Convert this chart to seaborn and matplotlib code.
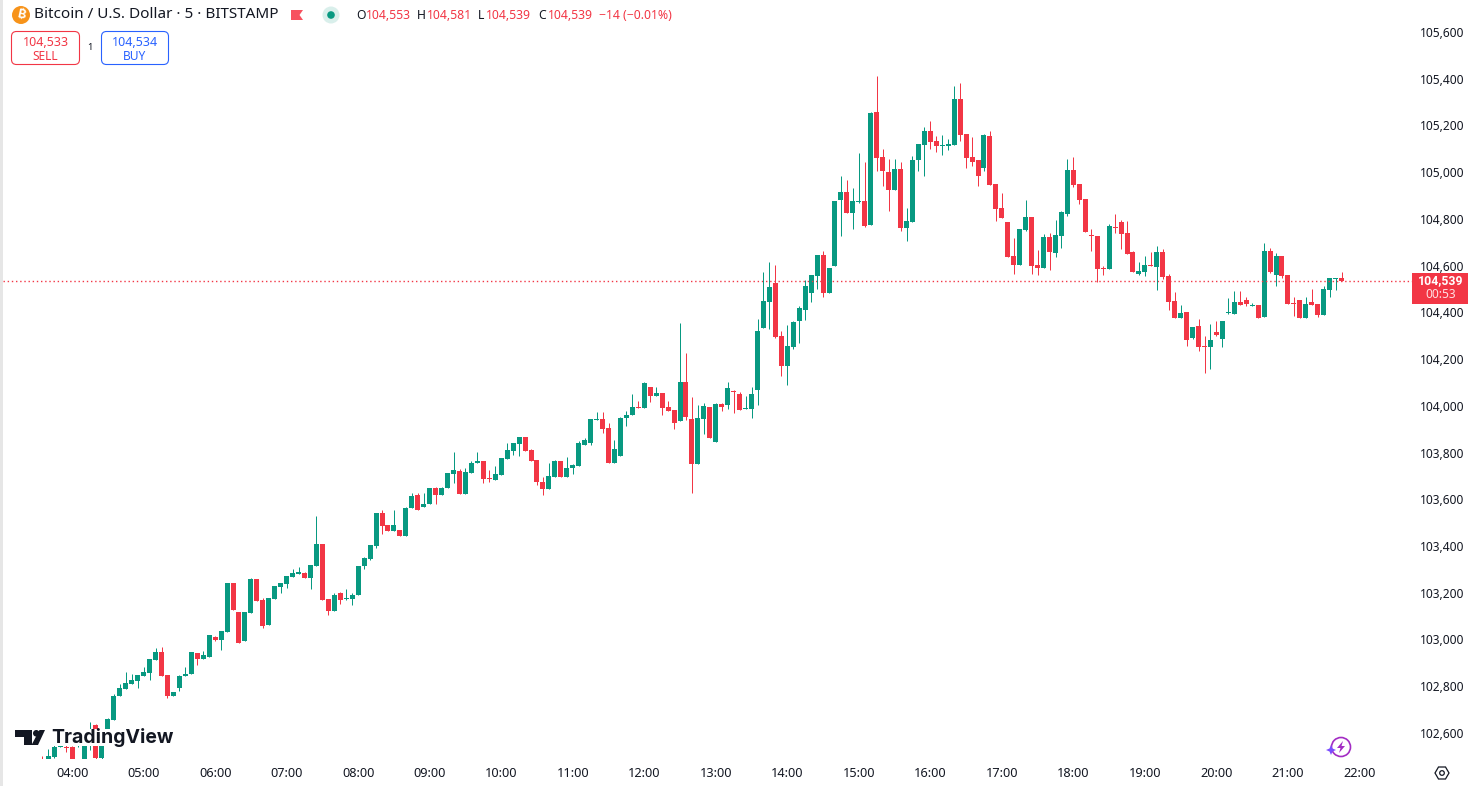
import matplotlib
matplotlib.use("Agg")
import matplotlib.pyplot as plt
import numpy as np
import pandas as pd
import seaborn as sns
from matplotlib.patches import Circle, FancyBboxPatch, Polygon, Rectangle
from matplotlib.transforms import ScaledTranslation

# 5 minute candles, one row = one hour, first row starts 03:35
opens = [
    102470, 102470, 102504, 102547, 102547, 102547, 102551, 102470, 102555, 102641, 102499, 102615,
    102662, 102765, 102795, 102816, 102829, 102850, 102863, 102919, 102953, 102855, 102765, 102799,
    102850, 102859, 102949, 102923, 102932, 103017, 103004, 103039, 103248, 103124, 103000, 103120,
    103265, 103176, 103069, 103180, 103231, 103244, 103274, 103287, 103291, 103270, 103321, 103415,
    103180, 103129, 103206, 103180, 103180, 103197, 103321, 103351, 103407, 103548, 103496, 103471,
    103475, 103449, 103569, 103625, 103574, 103586, 103655, 103625, 103655, 103715, 103728, 103629,
    103719, 103762, 103770, 103698, 103689, 103710, 103779, 103813, 103843, 103873, 103817, 103775,
    103680, 103650, 103702, 103770, 103702, 103740, 103749, 103839, 103847, 103946, 103950, 103912,
    103762, 103792, 103954, 103967, 104001, 103997, 104087, 104049, 104061, 104001, 103989, 103942,
    104108, 103950, 103757, 103950, 104001, 103852, 104014, 104010, 104070, 104057, 103993, 103993,
    104074, 104339, 104451, 104532, 104305, 104177, 104258, 104369, 104416, 104489, 104562, 104652,
    104489, 104605, 104887, 104921, 104832, 104879, 104883, 104780, 105264, 105071, 105007, 104930,
    105020, 104767, 104793, 105058, 105123, 105182, 105140, 105118, 105118, 105123, 105319, 105170,
    105071, 105058, 105024, 105161, 104956, 104853, 104793, 104647, 104609, 104759, 104814, 104609,
    104596, 104729, 104660, 104733, 104827, 105016, 104956, 104891, 104737, 104733, 104596, 104592,
    104772, 104793, 104746, 104665, 104571, 104579, 104609, 104600, 104665, 104562, 104455, 104382,
    104408, 104297, 104348, 104262, 104258, 104322, 104292, 104404, 104399, 104451, 104459, 104434,
    104438, 104387, 104669, 104566, 104647, 104566, 104446, 104459, 104382, 104451, 104442, 104395,
    104502, 104549, 104553,
]
highs = [
    102508, 102538, 102555, 102560, 102564, 102552, 102620, 102610, 102654, 102645, 102623, 102670,
    102773, 102816, 102867, 102859, 102856, 102889, 102924, 102970, 102974, 102856, 102783, 102855,
    102889, 102954, 102950, 102957, 103027, 103022, 103044, 103249, 103249, 103125, 103125, 103270,
    103266, 103184, 103185, 103237, 103249, 103279, 103308, 103317, 103295, 103326, 103535, 103416,
    103181, 103206, 103210, 103223, 103206, 103322, 103360, 103412, 103549, 103561, 103497, 103561,
    103476, 103574, 103633, 103633, 103633, 103656, 103659, 103659, 103720, 103809, 103736, 103740,
    103770, 103809, 103771, 103732, 103749, 103784, 103847, 103848, 103874, 103874, 103822, 103776,
    103702, 103762, 103775, 103771, 103787, 103758, 103856, 103869, 103951, 103980, 103980, 103933,
    103860, 103959, 103984, 104057, 104027, 104108, 104088, 104087, 104062, 104027, 103990, 104361,
    104232, 104044, 104010, 104019, 104002, 104019, 104019, 104108, 104074, 104066, 104049, 104087,
    104378, 104579, 104622, 104609, 104327, 104352, 104369, 104434, 104545, 104567, 104653, 104669,
    104597, 104884, 104990, 104973, 104939, 105088, 105050, 105264, 105418, 105105, 105063, 105063,
    105050, 104853, 105075, 105128, 105200, 105225, 105161, 105165, 105148, 105375, 105388, 105171,
    105157, 105059, 105170, 105182, 104957, 104917, 104794, 104725, 104764, 104887, 104815, 104673,
    104742, 104746, 104802, 104840, 105063, 105071, 104957, 104892, 104763, 104734, 104605, 104785,
    104827, 104802, 104797, 104669, 104622, 104647, 104665, 104690, 104678, 104571, 104493, 104438,
    104409, 104345, 104378, 104305, 104357, 104369, 104370, 104468, 104498, 104498, 104472, 104447,
    104439, 104703, 104682, 104660, 104648, 104567, 104472, 104460, 104472, 104506, 104443, 104519,
    104554, 104554, 104581,
]
lows = [
    102440, 102450, 102500, 102545, 102525, 102460, 102545, 102460, 102534, 102495, 102495, 102612,
    102660, 102764, 102794, 102815, 102799, 102849, 102833, 102918, 102849, 102756, 102764, 102786,
    102849, 102858, 102897, 102922, 102931, 103000, 102962, 103038, 103132, 102991, 102999, 103119,
    103170, 103056, 103068, 103179, 103206, 103227, 103273, 103286, 103269, 103223, 103320, 103175,
    103111, 103128, 103158, 103176, 103154, 103196, 103308, 103347, 103398, 103458, 103470, 103470,
    103448, 103448, 103568, 103560, 103573, 103585, 103586, 103624, 103654, 103676, 103628, 103628,
    103718, 103761, 103676, 103680, 103688, 103709, 103778, 103796, 103792, 103812, 103769, 103668,
    103625, 103649, 103701, 103701, 103701, 103715, 103748, 103838, 103839, 103945, 103890, 103761,
    103761, 103791, 103920, 103966, 103996, 103996, 104023, 104048, 103967, 103983, 103907, 103941,
    103946, 103633, 103756, 103886, 103868, 103851, 103984, 103993, 103976, 103988, 103992, 103954,
    104010, 104338, 104335, 104297, 104134, 104096, 104250, 104275, 104374, 104451, 104506, 104472,
    104488, 104604, 104733, 104831, 104763, 104874, 104772, 104779, 105011, 104947, 104840, 104929,
    104755, 104712, 104792, 105011, 104990, 105105, 105093, 105080, 105101, 105122, 105140, 105024,
    105033, 104947, 105011, 104950, 104797, 104809, 104642, 104571, 104608, 104755, 104571, 104566,
    104595, 104588, 104643, 104682, 104819, 104943, 104870, 104749, 104669, 104536, 104566, 104591,
    104746, 104678, 104655, 104578, 104566, 104562, 104604, 104502, 104549, 104416, 104381, 104381,
    104262, 104292, 104241, 104147, 104164, 104305, 104258, 104399, 104398, 104437, 104434, 104433,
    104381, 104386, 104575, 104519, 104553, 104441, 104391, 104381, 104381, 104437, 104387, 104394,
    104472, 104502, 104539,
]
closes = [
    102450, 102508, 102547, 102555, 102542, 102470, 102611, 102606, 102615, 102499, 102619, 102666,
    102765, 102799, 102820, 102833, 102855, 102867, 102923, 102953, 102850, 102765, 102782, 102850,
    102859, 102953, 102923, 102940, 103026, 103004, 103043, 103248, 103133, 102992, 103124, 103265,
    103171, 103064, 103184, 103236, 103248, 103278, 103291, 103295, 103270, 103325, 103415, 103176,
    103129, 103197, 103176, 103184, 103197, 103321, 103355, 103411, 103548, 103492, 103471, 103496,
    103449, 103569, 103621, 103561, 103586, 103655, 103625, 103655, 103719, 103732, 103629, 103723,
    103762, 103770, 103693, 103693, 103715, 103783, 103817, 103847, 103873, 103813, 103770, 103680,
    103650, 103706, 103770, 103702, 103740, 103753, 103847, 103860, 103950, 103950, 103907, 103762,
    103822, 103954, 103967, 104001, 103997, 104104, 104049, 104061, 103997, 103984, 103933, 104108,
    103959, 103757, 103954, 104006, 103869, 104014, 104001, 104083, 104066, 103989, 103997, 104057,
    104327, 104455, 104515, 104301, 104177, 104262, 104365, 104425, 104519, 104566, 104652, 104489,
    104596, 104883, 104921, 104832, 104883, 104883, 104776, 105259, 105067, 105011, 104930, 105020,
    104767, 104797, 105058, 105127, 105182, 105135, 105118, 105123, 105127, 105319, 105165, 105067,
    105050, 104990, 105165, 104951, 104849, 104810, 104643, 104609, 104763, 104814, 104605, 104596,
    104729, 104665, 104737, 104836, 105016, 104951, 104887, 104750, 104733, 104592, 104592, 104776,
    104767, 104742, 104656, 104579, 104583, 104609, 104605, 104665, 104558, 104451, 104382, 104404,
    104288, 104344, 104258, 104258, 104288, 104309, 104369, 104408, 104451, 104438, 104442, 104438,
    104382, 104669, 104579, 104647, 104562, 104442, 104442, 104382, 104442, 104438, 104395, 104506,
    104553, 104553, 104539,
]
hour_labels = ["04:00", "05:00", "06:00", "07:00", "08:00", "09:00", "10:00", "11:00", "12:00", "13:00",
               "14:00", "15:00", "16:00", "17:00", "18:00", "19:00", "20:00", "21:00", "22:00"]
price_ticks = [102600, 102800, 103000, 103200, 103400, 103600, 103800, 104000, 104200, 104400,
               104600, 104800, 105000, 105200, 105400, 105600]
last_price = 104539

GREEN = "#089981"
RED = "#F23645"
BLUE = "#2962FF"
W, H = 1472, 786

sns.set_theme(style="white")
plt.rcParams["font.family"] = ["Noto Sans", "DejaVu Sans"]

df = pd.DataFrame({"open": opens, "high": highs, "low": lows, "close": closes})
df["idx"] = np.arange(len(df))
df["body"] = (df["close"] - df["open"]).abs()
df["bottom"] = df[["open", "close"]].min(axis=1)
up = df[df["close"] > df["open"]]
down = df[df["close"] < df["open"]]

fig = plt.figure(figsize=(W / 100, H / 100), dpi=100)
ax = fig.add_axes([3 / W, (H - 759) / H, (1412 - 3) / W, 759 / H])

# wicks first, bodies on top
ax.vlines(up["idx"], up["low"], up["high"], color=GREEN, lw=0.72, snap=True)
ax.vlines(down["idx"], down["low"], down["high"], color=RED, lw=0.72, snap=True)
for part, colour in [(up, GREEN), (down, RED)]:
    sns.barplot(data=part, x="idx", y="body", bottom=part["bottom"], native_scale=True,
                color=colour, saturation=1, width=0.84, linewidth=0, errorbar=None, ax=ax)

ax.axhline(last_price, color=RED, lw=1.0, linestyle=(0, (1, 2)), zorder=1)

# one candle is 5.96 px wide, first candle sits at x=42.3
ax.set_xlim((3 - 42.3) / 5.96, (1412 - 42.3) / 5.96)
ax.set_ylim(102495, 105743)
ax.yaxis.tick_right()
ax.set_yticks(price_ticks, [f"{p:,}" for p in price_ticks])
ax.set_xticks(5 + 12 * np.arange(len(hour_labels)), hour_labels)
ax.tick_params(axis="y", length=0, pad=5.9, labelsize=8.6, labelcolor="#131722")
ax.tick_params(axis="x", length=0, pad=6, labelsize=9.2, labelcolor="#131722")
ax.set_xlabel("")
ax.set_ylabel("")
sns.despine(ax=ax, left=True, bottom=True, right=True, top=True)

# price labels sit a little above their level
nudge = ScaledTranslation(0, 1.5 / 100, fig.dpi_scale_trans)
for label in ax.get_yticklabels():
    label.set_transform(label.get_transform() + nudge)

# overlay in pixel coordinates for the TradingView interface parts
ov = fig.add_axes([0, 0, 1, 1], facecolor="none")
ov.set_xlim(0, W)
ov.set_ylim(H, 0)
ov.axis("off")

ov.add_patch(Rectangle((0, 0), 3, H, color="#E6E6E6", lw=0))

# header
ov.add_patch(Circle((21, 15), 9, color="#F7931A", lw=0))
ov.text(21, 15, "₿", color="white", fontsize=9, ha="center", va="center",
        family=["Inter", "Roboto", "Open Sans", "Lato", "DejaVu Sans"], weight="bold", rotation=-12)
ov.text(34, 15, "Bitcoin / U.S. Dollar · 5 · BITSTAMP", color="#131722", fontsize=11, va="center")
ov.add_patch(Polygon([(291, 10), (303, 10), (299.5, 15), (303, 20), (291, 20)], color="#F7525F", lw=0))
ov.add_patch(Circle((331, 15), 8.5, color="#D9EFEB", lw=0))
ov.add_patch(Circle((331, 15), 3.8, color=GREEN, lw=0))
for x, key, value in [(356, "O", "104,553"), (417, "H", "104,581"), (478, "L", "104,539"), (538, "C", "104,539")]:
    ov.text(x, 15.5, key, color="#131722", fontsize=8.8, va="center")
    ov.text(x + (8 if key == "L" else 10), 15.5, value, color=RED, fontsize=8.8, va="center")
ov.text(599, 15.5, "−14 (−0.01%)", color=RED, fontsize=8.8, va="center")

# sell and buy buttons
for x0, x1, colour, price, word in [(11.5, 79.5, RED, "104,533", "SELL"), (101.5, 168.5, BLUE, "104,534", "BUY")]:
    ov.add_patch(FancyBboxPatch((x0 + 4, 35.5), x1 - x0 - 8, 25, boxstyle="round,pad=4,rounding_size=5",
                                fc="white", ec=colour, lw=0.8))
    ov.text((x0 + x1) / 2, 42, price, color=colour, fontsize=9, ha="center", va="center")
    ov.text((x0 + x1) / 2, 56, word, color=colour, fontsize=8.6, ha="center", va="center")
ov.text(90, 48, "1", color="#131722", fontsize=6.8, ha="center", va="center")

# last price tag
ov.add_patch(Rectangle((1412, 272.5), 56, 31, color=RED, lw=0))
ov.text(1441, 281, "104,539", color="white", fontsize=8.8, weight="bold", family="Roboto", ha="center", va="center")
ov.text(1441, 295, "00:53", color="#FFE0E3", fontsize=8.6, ha="center", va="center")

# TradingView logo with the white block that hides the candles
ov.add_patch(Rectangle((47, 729), 128, 17, color="white", lw=0))
ov.add_patch(Polygon([(15, 730), (32, 730), (32, 745), (24, 745), (24, 737), (15, 737)], color="#131722", lw=0))
ov.add_patch(Circle((36.3, 733.3), 3.3, color="#131722", lw=0))
ov.add_patch(Polygon([(39.5, 730), (45, 730), (38, 745), (31.5, 745)], color="#131722", lw=0))
ov.text(51, 737.5, "TradingView", color="#131722", fontsize=14, weight="bold", family="Inter", va="center")

# bolt icon
ov.add_patch(Circle((1341, 747), 9.5, fc="none", ec="#A32CC4", lw=1.2))
ov.add_patch(Polygon([(1343, 741), (1337, 748), (1340.5, 748), (1339, 753), (1345, 746), (1341.5, 746)], color="#A32CC4", lw=0))
ov.add_patch(Polygon([(1331, 745), (1332.5, 748.5), (1336, 750), (1332.5, 751.5), (1331, 755), (1329.5, 751.5), (1326, 750), (1329.5, 748.5)],
                     color="#7B4DFF", lw=0))

# settings hexagon
ov.add_patch(Polygon([(1435, 773), (1438.5, 767), (1445.5, 767), (1449, 773), (1445.5, 779), (1438.5, 779)],
                     fc="none", ec="#131722", lw=0.9))
ov.add_patch(Circle((1442, 773), 2.3, fc="none", ec="#131722", lw=0.9))

fig.savefig("out.png", dpi=100)
